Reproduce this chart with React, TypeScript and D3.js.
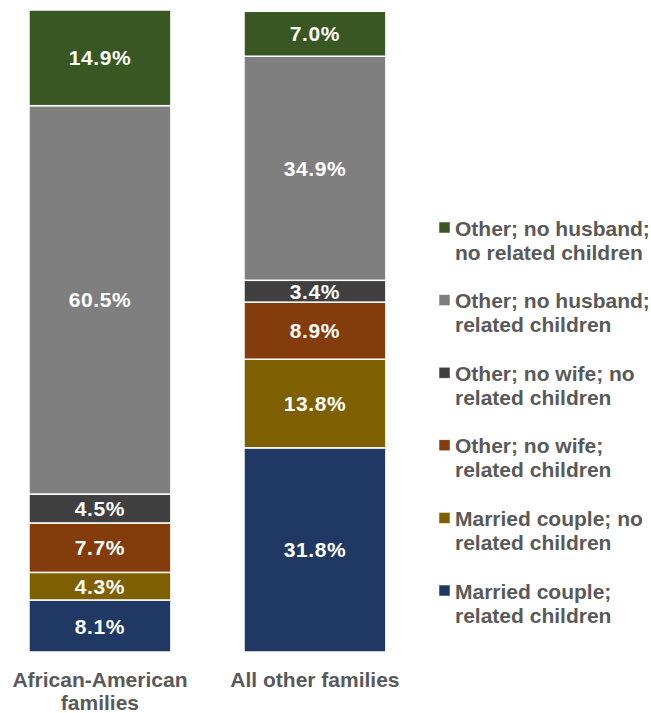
import React from "react";
import * as d3 from "d3";

const categories = ["African-American families", "All other families"];
const categoryLines = [["African-American", "families"], ["All other families"]];

const seriesNames = [
  "Married couple; related children",
  "Married couple; no related children",
  "Other; no wife; related children",
  "Other; no wife; no related children",
  "Other; no husband; related children",
  "Other; no husband; no related children",
];
const legendLines = [
  ["Married couple;", "related children"],
  ["Married couple; no", "related children"],
  ["Other; no wife;", "related children"],
  ["Other; no wife; no", "related children"],
  ["Other; no husband;", "related children"],
  ["Other; no husband;", "no related children"],
];
const seriesColors = ["#203864", "#7F6000", "#843C0C", "#404040", "#7F7F7F", "#385723"];

// values per series, [African-American, All other]
const marriedRelated = [8.1, 31.8];
const marriedNoRelated = [4.3, 13.8];
const noWifeRelated = [7.7, 8.9];
const noWifeNoRelated = [4.5, 3.4];
const noHusbandRelated = [60.5, 34.9];
const noHusbandNoRelated = [14.9, 7.0];
const seriesValues = [
  marriedRelated,
  marriedNoRelated,
  noWifeRelated,
  noWifeNoRelated,
  noHusbandRelated,
  noHusbandNoRelated,
];

const W = 651;
const H = 713;
const FONT = "'Liberation Sans', Arial, sans-serif";
const TEXT = "#595959";

export default function App() {
  const x = d3
    .scaleBand<string>()
    .domain(categories)
    .range([-7.55, 422.45])
    .paddingInner(0.34)
    .paddingOuter(0.17);
  const y = d3.scaleLinear().domain([0, 100]).range([652, 10]);

  const rows = categories.map((c, ci) => {
    const r: any = { cat: c };
    seriesNames.forEach((s, si) => (r[s] = seriesValues[si][ci]));
    return r;
  });
  const stack = d3.stack<any>().keys(seriesNames)(rows);

  const legendTop = 228;
  const legendStep = 72.6;
  const legendOrder = seriesNames.map((_, i) => seriesNames.length - 1 - i);

  return (
    <svg width={W} height={H} style={{ position: "absolute", left: 0, top: 0 }} fontFamily={FONT}>
      {stack.map((layer, si) =>
        layer.map((d, ci) => {
          const cat = categories[ci];
          const x0 = x(cat)!;
          const y0 = y(d[1]);
          const y1 = y(d[0]);
          return (
            <g key={`${si}-${ci}`}>
              <rect
                x={x0}
                y={y0}
                width={x.bandwidth()}
                height={y1 - y0}
                fill={seriesColors[si]}
                stroke="#ffffff"
                strokeWidth={1.5}
              />
              <text
                x={x0 + x.bandwidth() / 2}
                y={(y0 + y1) / 2}
                dy="0.36em"
                textAnchor="middle"
                fill="#ffffff"
                fontWeight="bold"
                fontSize={21}
                letterSpacing={0.6}
              >
                {seriesValues[si][ci].toFixed(1)}%
              </text>
            </g>
          );
        })
      )}
      {categories.map((c, ci) =>
        categoryLines[ci].map((line, li) => (
          <text
            key={`c-${ci}-${li}`}
            x={x(c)! + x.bandwidth() / 2}
            y={679 + li * 23}
            dy="0.36em"
            textAnchor="middle"
            fill={TEXT}
            fontWeight="bold"
            fontSize={21}
          >
            {line}
          </text>
        ))
      )}
      {legendOrder.map((si, i) => {
        const cy = legendTop + i * legendStep;
        return (
          <g key={`l-${si}`}>
            <rect x={439} y={cy - 6} width={11} height={11} fill={seriesColors[si]} stroke="#ffffff" strokeWidth={0.5} />
            {legendLines[si].map((line, li) => (
              <text
                key={li}
                x={455}
                y={cy + li * 24}
                dy="0.36em"
                fill={TEXT}
                fontWeight="bold"
                fontSize={21}
              >
                {line}
              </text>
            ))}
          </g>
        );
      })}
    </svg>
  );
}
